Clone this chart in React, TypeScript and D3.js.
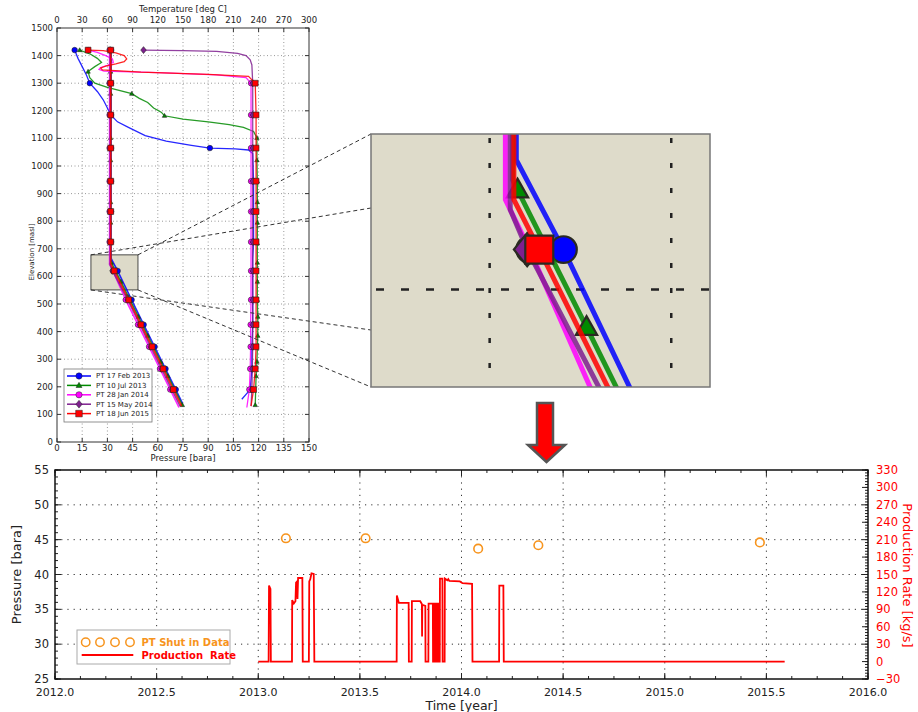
import React from "react";
import * as d3 from "d3";

const FONT = "'DejaVu Sans', 'Liberation Sans', sans-serif";

type Pt = [number, number]; // [elevation masl, value]

// ---------------- profile chart (top left) ----------------
const elevationTicks = [0, 100, 200, 300, 400, 500, 600, 700, 800, 900, 1000, 1100, 1200, 1300, 1400, 1500];
const pressureTicks = [0, 15, 30, 45, 60, 75, 90, 105, 120, 135, 150];
const temperatureTicks = [0, 30, 60, 90, 120, 150, 180, 210, 240, 270, 300];

const surveyNames = ["PT 17 Feb 2013", "PT 10 Jul 2013", "PT 28 Jan 2014", "PT 15 May 2014", "PT 18 Jun 2015"];
const surveyColors = ["#0000ff", "#008a00", "#ff00ff", "#7f1f8f", "#ff0000"];
const surveyMarkers = ["circle", "triangle", "circle", "diamond", "square"];

// elevations where the markers sit
const markDepths = [1420, 1300, 1185, 1065, 945, 835, 725, 620, 515, 425, 345, 265, 190];
const markDepthsJul2013 = [1420, 1342, 1262, 1182, 1102, 1021, 945, 869, 795, 720, 650, 581, 515, 454, 385, 291, 239, 134];

// pressure profiles [elevation, bara]
const pressureFeb2013: Pt[] = [[1420, 32.2], [1300, 32.2], [1185, 32.2], [1065, 32.2], [945, 32.2], [835, 32.2], [725, 32.2], [665, 32.2], [620, 36.1], [515, 44.4], [425, 51.6], [345, 58.1], [265, 64.6], [190, 70.7], [140, 74.7]];
const pressureJul2013: Pt[] = [[1420, 31.9], [1342, 31.9], [1262, 31.9], [1182, 31.9], [1102, 31.9], [1021, 31.9], [945, 31.9], [869, 31.9], [795, 31.9], [720, 31.9], [655, 31.9], [650, 32.3], [581, 38.0], [515, 43.4], [454, 48.4], [385, 54.0], [291, 61.7], [239, 66.0], [134, 74.6]];
const pressureJan2014: Pt[] = [[1420, 31.3], [1300, 31.3], [1185, 31.3], [1065, 31.3], [945, 31.3], [835, 31.3], [725, 31.3], [645, 31.3], [620, 33.3], [515, 40.9], [425, 48.2], [345, 54.8], [265, 61.3], [190, 67.4], [125, 72.6]];
const pressureMay2014: Pt[] = [[1420, 31.7], [1300, 31.7], [1185, 31.7], [1065, 31.7], [945, 31.7], [835, 31.7], [725, 31.7], [640, 31.7], [620, 33.1], [515, 42.1], [425, 49.4], [345, 55.8], [265, 62.3], [190, 68.4], [130, 73.3]];
const pressureJun2015: Pt[] = [[1420, 32.0], [1300, 32.0], [1185, 32.0], [1065, 32.0], [945, 32.0], [835, 32.0], [725, 32.0], [645, 32.0], [620, 34.1], [515, 42.7], [425, 50.0], [345, 56.6], [265, 63.2], [190, 69.3], [130, 74.2]];

// temperature profiles [elevation, deg C]
const tempFeb2013: Pt[] = [[1420, 21], [1390, 25], [1360, 30], [1330, 35], [1300, 39], [1270, 48], [1240, 55], [1210, 60], [1185, 64], [1160, 72], [1140, 85], [1110, 105], [1090, 130], [1075, 160], [1065, 182], [1062, 212], [1058, 228], [1045, 233], [945, 234], [835, 234], [725, 234], [665, 233], [620, 233], [515, 233], [425, 233], [345, 232], [265, 232], [190, 230], [155, 220]];
const tempJul2013: Pt[] = [[1420, 27], [1405, 40], [1390, 48], [1375, 53], [1360, 45], [1342, 37], [1320, 39], [1300, 45], [1285, 60], [1262, 89], [1245, 98], [1230, 108], [1210, 115], [1195, 124], [1182, 128], [1170, 150], [1160, 180], [1150, 205], [1140, 222], [1125, 234], [1102, 238], [1021, 238], [945, 238.5], [869, 238.5], [795, 238.5], [720, 238.5], [650, 238.5], [581, 238.5], [515, 238.5], [454, 239], [385, 239], [291, 238], [239, 237], [134, 236]];
const tempJan2014: Pt[] = [[1420, 37], [1412, 48], [1400, 58], [1388, 66], [1375, 67], [1365, 60], [1357, 52], [1350, 50], [1344, 56], [1338, 120], [1330, 190], [1320, 225], [1300, 231], [1185, 231], [1065, 231], [945, 231], [835, 231], [725, 231], [620, 231], [515, 231], [425, 230.5], [345, 230.5], [265, 230], [190, 229], [125, 226]];
const tempMay2014: Pt[] = [[1420, 103], [1418, 150], [1415, 190], [1408, 215], [1400, 225], [1385, 230], [1366, 232], [1300, 233], [1185, 233], [1065, 233], [945, 233], [835, 233], [725, 233], [620, 233], [515, 233], [425, 233], [345, 233], [265, 232.5], [190, 232], [130, 231]];
const tempJun2015: Pt[] = [[1420, 37], [1418, 55], [1410, 70], [1400, 80], [1388, 83], [1378, 80], [1370, 70], [1362, 58], [1355, 52], [1348, 54], [1340, 100], [1332, 180], [1325, 228], [1300, 236], [1185, 237], [1065, 237], [945, 237], [835, 237], [725, 237], [620, 237], [515, 237], [425, 237], [345, 237], [265, 236], [190, 234], [130, 231]];

const surveys = [
  { name: surveyNames[0], color: surveyColors[0], marker: surveyMarkers[0], depths: markDepths, pressure: pressureFeb2013, temp: tempFeb2013 },
  { name: surveyNames[1], color: surveyColors[1], marker: surveyMarkers[1], depths: markDepthsJul2013, pressure: pressureJul2013, temp: tempJul2013 },
  { name: surveyNames[2], color: surveyColors[2], marker: surveyMarkers[2], depths: markDepths, pressure: pressureJan2014, temp: tempJan2014 },
  { name: surveyNames[3], color: surveyColors[3], marker: surveyMarkers[3], depths: markDepths, pressure: pressureMay2014, temp: tempMay2014 },
  { name: surveyNames[4], color: surveyColors[4], marker: surveyMarkers[4], depths: markDepths, pressure: pressureJun2015, temp: tempJun2015 },
];

// zoom window (pressure bara, elevation masl)
const zoomPressure = [20.2, 48.2];
const zoomElevation = [551, 678];

// ---------------- history chart (bottom) ----------------
const yearTicks = [2012.0, 2012.5, 2013.0, 2013.5, 2014.0, 2014.5, 2015.0, 2015.5, 2016.0];
const pressureBTicks = [25, 30, 35, 40, 45, 50, 55];
const rateTicks = [-30, 0, 30, 60, 90, 120, 150, 180, 210, 240, 270, 300, 330];

const shutInYear = [2013.136, 2013.528, 2014.082, 2014.378, 2015.468];
const shutInPressure = [45.2, 45.2, 43.7, 44.2, 44.6];

// [year, kg/s]
const productionRate: [number, number][] = [
  [2013.0, 0], [2013.051, 0], [2013.053, 131], [2013.06, 125], [2013.062, 0],
  [2013.166, 0], [2013.167, 106], [2013.175, 100], [2013.183, 104], [2013.186, 136], [2013.191, 138], [2013.193, 108], [2013.196, 144], [2013.217, 144], [2013.219, 0],
  [2013.249, 0], [2013.251, 138], [2013.256, 142], [2013.262, 152], [2013.273, 151], [2013.276, 0],
  [2013.681, 0], [2013.682, 114], [2013.692, 101], [2013.74, 101], [2013.741, 0],
  [2013.755, 0], [2013.756, 104], [2013.797, 104], [2013.805, 99], [2013.806, 43], [2013.807, 98], [2013.822, 96], [2013.823, 0],
  [2013.837, 0], [2013.838, 100], [2013.859, 100], [2013.86, 0], [2013.864, 0], [2013.865, 100], [2013.868, 100], [2013.869, 0],
  [2013.872, 0], [2013.873, 100], [2013.876, 100], [2013.877, 0], [2013.88, 0], [2013.881, 100], [2013.884, 100], [2013.885, 0],
  [2013.888, 0], [2013.889, 100], [2013.891, 100], [2013.892, 0], [2013.893, 0], [2013.894, 143], [2013.906, 143], [2013.907, 0],
  [2013.917, 0], [2013.918, 143], [2013.93, 140], [2013.935, 142], [2013.94, 139], [2013.992, 138], [2014.005, 135], [2014.052, 134], [2014.054, 0],
  [2014.185, 0], [2014.186, 131], [2014.206, 131], [2014.208, 0], [2015.59, 0],
];

const ORANGE = "#f7941d";

function markerPath(kind: string, s: number): string {
  switch (kind) {
    case "circle":
      return `M${s},0A${s},${s} 0 1,1 ${-s},0A${s},${s} 0 1,1 ${s},0Z`;
    case "square":
      return `M${-s},${-s}H${s}V${s}H${-s}Z`;
    case "triangle":
      return `M0,${-s * 1.1}L${s * 1.05},${s * 0.75}L${-s * 1.05},${s * 0.75}Z`;
    default:
      return `M0,${-s * 1.25}L${s},0L0,${s * 1.25}L${-s},0Z`;
  }
}

const markerScale = (kind: string) => (kind === "square" ? 1.0 : kind === "triangle" ? 0.85 : 0.95);

const ProfileLines = ({ xP, xT, yE, lw, ms, edge }: any) => {
  const lineP = d3.line<Pt>().x((d) => xP(d[1])).y((d) => yE(d[0]));
  const lineT = d3.line<Pt>().x((d) => xT(d[1])).y((d) => yE(d[0]));
  return (
    <g>
      {surveys.map((s) => (
        <g key={s.name}>
          <path d={lineT(s.temp) || ""} fill="none" stroke={s.color} strokeWidth={lw * 0.8} strokeOpacity={0.85} />
          <path d={lineP(s.pressure) || ""} fill="none" stroke={s.color} strokeWidth={lw} strokeOpacity={0.85} />
          {[...s.pressure.map((d) => [xP(d[1]), yE(d[0]), d[0]]), ...s.temp.map((d) => [xT(d[1]), yE(d[0]), d[0]])]
            .filter((d) => s.depths.includes(d[2]))
            .map((d, i) => (
              <path
                key={i}
                transform={`translate(${d[0]},${d[1]})`}
                d={markerPath(s.marker, ms * markerScale(s.marker) * (s.marker === "triangle" ? 0.85 : 1))}
                fill={s.color}
                stroke={edge}
                strokeWidth={ms > 6 ? 2.2 : 0.6}
              />
            ))}
        </g>
      ))}
    </g>
  );
};

const ProfileChart = () => {
  const left = 57, right = 309, top = 28, bottom = 442;
  const xP = d3.scaleLinear().domain([0, 150]).range([left, right]);
  const xT = d3.scaleLinear().domain([0, 300]).range([left, right]);
  const yE = d3.scaleLinear().domain([0, 1500]).range([bottom, top]);
  const bx0 = xP(zoomPressure[0]), bx1 = xP(zoomPressure[1]);
  const by0 = yE(zoomElevation[1]), by1 = yE(zoomElevation[0]);
  return (
    <g fontFamily={FONT}>
      <rect x={left} y={top} width={right - left} height={bottom - top} fill="#fff" />
      {pressureTicks.slice(1, -1).map((t) => (
        <line key={"gx" + t} x1={xP(t)} x2={xP(t)} y1={top} y2={bottom} stroke="#999" strokeDasharray="1 2.5" />
      ))}
      {elevationTicks.slice(1, -1).map((t) => (
        <line key={"gy" + t} x1={left} x2={right} y1={yE(t)} y2={yE(t)} stroke="#999" strokeDasharray="1 2.5" />
      ))}
      <rect x={bx0} y={by0} width={bx1 - bx0} height={by1 - by0} fill="#dddac9" stroke="#222" strokeWidth={0.8} />
      <ProfileLines xP={xP} xT={xT} yE={yE} lw={1.6} ms={2.9} edge="#222" />
      <rect x={left} y={top} width={right - left} height={bottom - top} fill="none" stroke="#333" strokeWidth={1} />
      {/* ticks */}
      {pressureTicks.map((t) => (
        <g key={"bp" + t}>
          <line x1={xP(t)} x2={xP(t)} y1={bottom} y2={bottom - 4} stroke="#333" />
          <text x={xP(t)} y={bottom + 9} fontSize={8.5} textAnchor="middle" fill="#222">{t}</text>
        </g>
      ))}
      {temperatureTicks.map((t) => (
        <g key={"tt" + t}>
          <line x1={xT(t)} x2={xT(t)} y1={top} y2={top + 4} stroke="#333" />
          <text x={xT(t)} y={top - 5} fontSize={8.5} textAnchor="middle" fill="#222">{t}</text>
        </g>
      ))}
      {elevationTicks.map((t) => (
        <g key={"le" + t}>
          <line x1={left} x2={left + 4} y1={yE(t)} y2={yE(t)} stroke="#333" />
          <line x1={right} x2={right - 4} y1={yE(t)} y2={yE(t)} stroke="#333" />
          <text x={left - 4} y={yE(t)} dy="0.35em" fontSize={8.5} textAnchor="end" fill="#222">{t}</text>
        </g>
      ))}
      <text x={(left + right) / 2} y={12} fontSize={8.5} textAnchor="middle" fill="#222">Temperature [deg C]</text>
      <text x={(left + right) / 2} y={461} fontSize={8.5} textAnchor="middle" fill="#222">Pressure [bara]</text>
      <text transform={`translate(34,252) rotate(-90)`} fontSize={7} textAnchor="middle" fill="#222">Elevation [masl]</text>
      {/* legend */}
      <rect x={64} y={369} width={88} height={53} fill="#fff" stroke="#777" strokeWidth={0.8} />
      {surveys.map((s, i) => {
        const y = 376 + i * 9.4;
        return (
          <g key={"lg" + s.name}>
            <line x1={67} x2={91} y1={y} y2={y} stroke={s.color} strokeWidth={1.5} />
            <path transform={`translate(79,${y})`} d={markerPath(s.marker, 3.3 * markerScale(s.marker))} fill={s.color} stroke="#222" strokeWidth={0.5} />
            <text x={96} y={y} dy="0.35em" fontSize={7} fill="#222">{s.name}</text>
          </g>
        );
      })}
    </g>
  );
};

const ZoomInset = () => {
  const x0 = 371, x1 = 710, y0 = 134, y1 = 387;
  const xi = d3.scaleLinear().domain(zoomPressure).range([x0, x1]);
  const xiT = d3.scaleLinear().domain([zoomPressure[0] * 2, zoomPressure[1] * 2]).range([x0, x1]);
  const yi = d3.scaleLinear().domain(zoomElevation).range([y1, y0]);
  return (
    <g>
      <defs>
        <clipPath id="insetClip">
          <rect x={x0} y={y0} width={x1 - x0} height={y1 - y0} />
        </clipPath>
      </defs>
      <rect x={x0} y={y0} width={x1 - x0} height={y1 - y0} fill="#dedbca" />
      <g clipPath="url(#insetClip)">
        {[30, 45].map((t) => (
          <line key={t} x1={xi(t)} x2={xi(t)} y1={y0} y2={y1} stroke="#222" strokeWidth={2.5} strokeDasharray="5 20" strokeDashoffset={-4} />
        ))}
        <line x1={x0} x2={x1} y1={yi(600)} y2={yi(600)} stroke="#222" strokeWidth={2.5} strokeDasharray="8 17" strokeDashoffset={-5} />
        <ProfileLines xP={xi} xT={xiT} yE={yi} lw={5} ms={14} edge="#2a2a22" />
      </g>
      <rect x={x0} y={y0} width={x1 - x0} height={y1 - y0} fill="none" stroke="#777" strokeWidth={1.5} />
    </g>
  );
};

const Connectors = () => {
  const xP = d3.scaleLinear().domain([0, 150]).range([57, 309]);
  const yE = d3.scaleLinear().domain([0, 1500]).range([442, 28]);
  const l = xP(zoomPressure[0]), r = xP(zoomPressure[1]);
  const t = yE(zoomElevation[1]), b = yE(zoomElevation[0]);
  const segs = [
    [r, t, 371, 134],
    [l, t, 371, 208],
    [l, b, 371, 330],
    [r, b, 371, 387],
  ];
  return (
    <g>
      {segs.map((s, i) => (
        <line key={i} x1={s[0]} y1={s[1]} x2={s[2]} y2={s[3]} stroke="#333" strokeWidth={1} strokeDasharray="4 3" />
      ))}
    </g>
  );
};

const Arrow = () => (
  <path
    d="M537,403 L553,403 L553,445 L565,445 L546.5,462 L528,445 L537,445 Z"
    fill="#ff0000"
    stroke="#555"
    strokeWidth={2.5}
    strokeLinejoin="miter"
  />
);

const HistoryChart = () => {
  const left = 55, right = 868, top = 470, bottom = 679;
  const x = d3.scaleLinear().domain([2012, 2016]).range([left, right]);
  const yP = d3.scaleLinear().domain([25, 55]).range([bottom, top]);
  const yR = d3.scaleLinear().domain([-30, 330]).range([bottom, top]);
  const rateLine = d3.line<[number, number]>().x((d) => x(d[0])).y((d) => yR(d[1]));
  const minorX = d3.range(2012, 2016.001, 0.125);
  const minorP = d3.range(25, 55.01, 1);
  const minorR = d3.range(-30, 330.1, 5);
  return (
    <g fontFamily={FONT}>
      {yearTicks.slice(1, -1).map((t) => (
        <line key={"gx" + t} x1={x(t)} x2={x(t)} y1={top} y2={bottom} stroke="#333" strokeDasharray="1.2 5" />
      ))}
      {pressureBTicks.slice(1, -1).map((t) => (
        <line key={"gy" + t} x1={left} x2={right} y1={yP(t)} y2={yP(t)} stroke="#333" strokeDasharray="1.2 5" />
      ))}
      <path d={rateLine(productionRate) || ""} fill="none" stroke="#ff0000" strokeWidth={1.8} />
      {shutInYear.map((yr, i) => (
        <circle key={yr} cx={x(yr)} cy={yP(shutInPressure[i])} r={4.3} fill="none" stroke={ORANGE} strokeWidth={1.6} />
      ))}
      {/* minor ticks */}
      {minorX.map((t) => (
        <g key={"mx" + t}>
          <line x1={x(t)} x2={x(t)} y1={bottom} y2={bottom - 3} stroke="#222" />
          <line x1={x(t)} x2={x(t)} y1={top} y2={top + 3} stroke="#222" />
        </g>
      ))}
      {minorP.map((t) => (
        <line key={"mp" + t} x1={left} x2={left + 3} y1={yP(t)} y2={yP(t)} stroke="#222" />
      ))}
      {minorR.map((t) => (
        <line key={"mr" + t} x1={right} x2={right - 3} y1={yR(t)} y2={yR(t)} stroke="#222" />
      ))}
      {yearTicks.map((t) => (
        <g key={"x" + t}>
          <line x1={x(t)} x2={x(t)} y1={bottom} y2={bottom - 6} stroke="#222" />
          <line x1={x(t)} x2={x(t)} y1={top} y2={top + 6} stroke="#222" />
          <text x={x(t)} y={692.5} dy="0.35em" fontSize={11} textAnchor="middle" fill="#222">{t.toFixed(1)}</text>
        </g>
      ))}
      {pressureBTicks.map((t) => (
        <g key={"p" + t}>
          <line x1={left} x2={left + 6} y1={yP(t)} y2={yP(t)} stroke="#222" />
          <text x={49} y={yP(t)} dy="0.35em" fontSize={11.5} textAnchor="end" fill="#222">{t}</text>
        </g>
      ))}
      {rateTicks.map((t) => (
        <g key={"r" + t}>
          <line x1={right} x2={right - 6} y1={yR(t)} y2={yR(t)} stroke="#222" />
          <text x={876} y={yR(t)} dy="0.35em" fontSize={11.5} textAnchor="start" fill="#ff0000">{t < 0 ? "\u2212" + Math.abs(t) : t}</text>
        </g>
      ))}
      <rect x={left} y={top} width={right - left} height={bottom - top} fill="none" stroke="#111" strokeWidth={1.5} />
      <text transform={`translate(16,${(top + bottom) / 2}) rotate(-90)`} dy="0.35em" fontSize={13} textAnchor="middle" fill="#222">Pressure [bara]</text>
      <text transform={`translate(908,${(top + bottom) / 2 + 1}) rotate(90)`} dy="0.35em" fontSize={13} textAnchor="middle" fill="#ff0000">Production Rate [kg/s]</text>
      <text x={(left + right) / 2} y={706} dy="0.35em" fontSize={12.5} textAnchor="middle" fill="#222">Time [year]</text>
      {/* legend */}
      <rect x={77} y={630} width={153} height={34} fill="#fff" stroke="#aaa" strokeWidth={1} />
      {[85.7, 100, 115, 130].map((cx) => (
        <circle key={cx} cx={cx} cy={642.3} r={4.2} fill="none" stroke={ORANGE} strokeWidth={1.5} />
      ))}
      <text x={141.5} y={642.3} dy="0.35em" fontSize={10} fontWeight="bold" fill={ORANGE}>PT Shut in Data</text>
      <line x1={81.7} x2={133.3} y1={655} y2={655} stroke="#ff0000" strokeWidth={2} />
      <text x={141.5} y={655} dy="0.35em" fontSize={10} fontWeight="bold" fill="#ff0000" style={{ whiteSpace: "pre" }}>Production  Rate</text>
    </g>
  );
};

const App = () => (
  <svg width={918} height={712} style={{ position: "absolute", left: 0, top: 0, background: "#fff" }}>
    <ProfileChart />
    <Connectors />
    <ZoomInset />
    <Arrow />
    <HistoryChart />
  </svg>
);

export default App;
